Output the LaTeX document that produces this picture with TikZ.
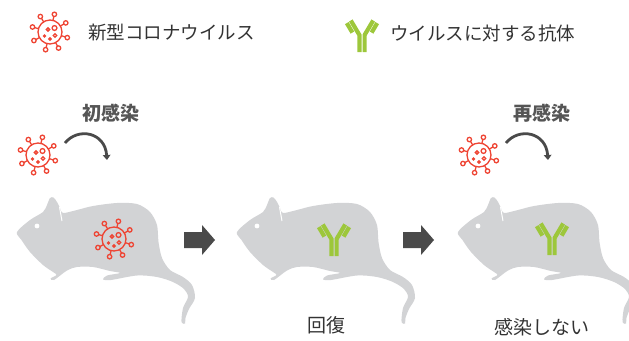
\documentclass[tikz,border=0pt]{standalone}
\usepackage{fontspec}
\setmainfont{Noto Sans CJK JP}
\usetikzlibrary{arrows.meta}

\definecolor{virusred}{HTML}{EE4433}
\definecolor{mousegray}{HTML}{D2D3D5}
\definecolor{abgreen}{HTML}{9DC73B}
\definecolor{arrowgray}{HTML}{4A4A4A}
\definecolor{textgray}{HTML}{333333}
\definecolor{labelgray}{HTML}{555555}

\tikzset{
	virusline/.style={draw=virusred,line width=1.3},
	abchain/.style={draw=abgreen,line width=4.2,line cap=butt,line join=miter},
	turnarrow/.style={draw=arrowgray,line width=2.8,-{Triangle[width=7.5pt,length=5pt]}},
	blockarrow/.style={fill=arrowgray},
	legendtext/.style={text=textgray,font=\fontsize{18.5}{20}\selectfont,inner sep=0pt,anchor=west},
	steplabel/.style={text=labelgray,font=\bfseries\fontsize{19}{21}\selectfont,inner sep=0pt},
	resultlabel/.style={text=textgray,font=\fontsize{19}{21}\selectfont,inner sep=0pt},
	virus/.pic={
		\draw[virusline] (0,0) circle[radius=12];
		\foreach \a in {18,62,104,152,196,238,284,330}{
			\draw[virusline] (\a:12) -- (\a:16);
			\draw[virusline] (\a:18.2) circle[radius=2.2];
		}
		\draw[virusline] (4.5,-4) circle[radius=2.4];
		\draw[virusline] (-2,-2.5) circle[radius=1.6];
		\draw[virusline] (5,3.5) circle[radius=1.8];
		\draw[virusline] (-5.5,4) circle[radius=1];
		\draw[virusline] (0,7) circle[radius=1.3];
	},
	antibody/.pic={
		\draw[abchain] (-2.6,18) -- (-2.6,1) -- (-11.2,-13.5);
		\draw[abchain] (2.6,18) -- (2.6,1) -- (11.2,-13.5);
		\draw[abchain] (-9.6,-1.4) -- (-15.2,-10.9);
		\draw[abchain] (9.6,-1.4) -- (15.2,-10.9);
	},
	mouse/.pic={
		\fill[mousegray] plot[smooth cycle,tension=0.5] coordinates {
			(0,0) (13,-12) (26,-20) (30,-27) (33,-34) (36.5,-34.5) (40,-30)
			(43,-24) (46,-19) (60,-22) (76,-26) (100,-29) (120,-28) (133,-20)
			(140,-7) (141.5,10) (145,26) (153,38) (166,45) (175,53) (178,66)
			(172,77) (168.5,86) (168,91.5) (164.5,90) (166,76) (171,65)
			(167,57) (156,50) (140,45) (120,43.5) (94,48) (86,47.5) (90,43.5)
			(103,41) (93,39) (76,35) (60,35) (50,38.5) (37,48) (33.5,46.5)
			(39.5,43) (36,40) (26,33) (13,20) (4.5,8)};
		\fill[white] (20,-6) circle[radius=2.4];
		\draw[white,line width=1] (42.5,-25) -- (45,-11);
	},
}

\begin{document}
\begin{tikzpicture}[x=1pt,y=-1pt]
	\useasboundingbox (0,0) rectangle (629,340);

	% legend
	\pic at (50,32) {virus};
	\node[legendtext] (legvirus) at (88,33) {新型コロナウイルス};
	\pic at (362,34) {antibody};
	\node[legendtext] (legab) at (390,33) {ウイルスに対する抗体};

	% mice
	\pic at (17,232) {mouse};
	\pic at (237,232) {mouse};
	\pic at (458,232) {mouse};
	\pic at (114,239) {virus};
	\pic at (334,238) {antibody};
	\pic at (552,237) {antibody};

	% first infection
	\node[steplabel] (first) at (111,113) {初感染};
	\pic at (38,155) {virus};
	\draw[turnarrow] (65,143) .. controls (78,127) and (105,132) .. (107,160);

	% second infection
	\node[steplabel] (second) at (542,113) {再感染};
	\pic at (479,155) {virus};
	\draw[turnarrow] (506,143) .. controls (519,127) and (546,132) .. (548,160);

	% steps between mice
	\fill[blockarrow] (184,232) -- (202,232) -- (202,225) -- (215,240) -- (202,255) -- (202,248) -- (184,248) -- cycle;
	\fill[blockarrow] (403,232) -- (421,232) -- (421,225) -- (434,240) -- (421,255) -- (421,248) -- (403,248) -- cycle;

	\node[resultlabel] (recovered) at (326.5,325) {回復};
	\node[resultlabel] (noinfect) at (541.5,327) {感染しない};
\end{tikzpicture}
\end{document}
